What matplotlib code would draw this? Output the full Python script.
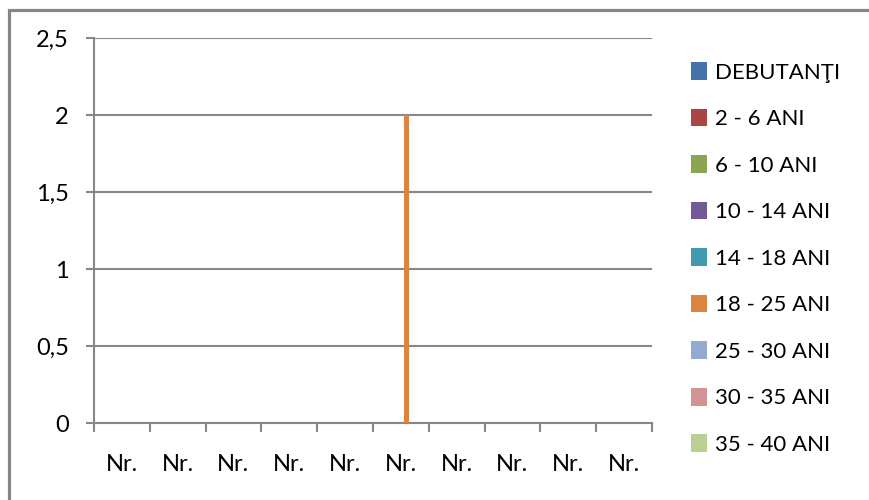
import matplotlib
matplotlib.use("Agg")
import matplotlib.pyplot as plt
import numpy as np
from matplotlib.patches import Rectangle

categories = ["Nr."] * 10
series_names = ["DEBUTANŢI", "2 - 6 ANI", "6 - 10 ANI", "10 - 14 ANI", "14 - 18 ANI",
                "18 - 25 ANI", "25 - 30 ANI", "30 - 35 ANI", "35 - 40 ANI"]
series_colors = ["#4672AC", "#A94543", "#8BA652", "#735A94", "#4198AF",
                 "#DD8440", "#94AAD2", "#D29393", "#B9CF96"]
debutanti = [0, 0, 0, 0, 0, 0, 0, 0, 0, 0]
ani_2_6 = [0, 0, 0, 0, 0, 0, 0, 0, 0, 0]
ani_6_10 = [0, 0, 0, 0, 0, 0, 0, 0, 0, 0]
ani_10_14 = [0, 0, 0, 0, 0, 0, 0, 0, 0, 0]
ani_14_18 = [0, 0, 0, 0, 0, 0, 0, 0, 0, 0]
ani_18_25 = [0, 0, 0, 0, 0, 2, 0, 0, 0, 0]
ani_25_30 = [0, 0, 0, 0, 0, 0, 0, 0, 0, 0]
ani_30_35 = [0, 0, 0, 0, 0, 0, 0, 0, 0, 0]
ani_35_40 = [0, 0, 0, 0, 0, 0, 0, 0, 0, 0]
all_series = [debutanti, ani_2_6, ani_6_10, ani_10_14, ani_14_18,
              ani_18_25, ani_25_30, ani_30_35, ani_35_40]
y_ticks = [0, 0.5, 1, 1.5, 2, 2.5]
y_tick_labels = ["0", "0,5", "1", "1,5", "2", "2,5"]

plt.rcParams['font.family'] = ['Lato', 'DejaVu Sans']
GRAY = "#878787"

fig = plt.figure(figsize=(8.7, 5.0), dpi=100)
ax = fig.add_axes([94/870, 1-423/500, (652-94)/870, (423-38)/500])

n_cat = len(categories)
n_ser = len(all_series)
x = np.arange(n_cat)
w = 1.0 / (n_ser + 1.5)
for i, (vals, name, col) in enumerate(zip(all_series, series_names, series_colors)):
    offs = (i - (n_ser - 1) / 2) * w
    ax.bar(x + offs, vals, width=w, color=col, label=name, linewidth=0, zorder=3)

ax.set_xlim(-0.5, n_cat - 0.5)
ax.set_ylim(0, 2.5)
ax.set_yticks(y_ticks)
ax.set_yticklabels(y_tick_labels)
ax.set_xticks(x)
ax.set_xticklabels(categories)
ax.set_xticks(np.arange(-0.5, n_cat, 1), minor=True)
ax.tick_params(axis='x', which='major', length=0, pad=22, labelsize=17)
ax.tick_params(axis='x', which='minor', length=6.5, width=1.5, color=GRAY, direction='out')
ax.tick_params(axis='y', length=6, width=1.5, color=GRAY, pad=12, labelsize=17)

for s in ['top', 'right']:
    ax.spines[s].set_visible(False)
for s in ['left', 'bottom']:
    ax.spines[s].set_color(GRAY)
    ax.spines[s].set_linewidth(1.5)
ax.grid(axis='y', color=GRAY, linewidth=1.5, zorder=1)
ax.set_axisbelow(True)

handles, labels = ax.get_legend_handles_labels()
leg = fig.legend(handles, labels, loc='upper left', bbox_to_anchor=(691/870, 1-62/500),
                 frameon=False, fontsize=16, handlelength=0.72, handleheight=0.85,
                 handletextpad=0.35, labelspacing=1.17, borderaxespad=0, borderpad=0)

fig.patches.append(Rectangle((9/870, -0.2), 1.2, 1.2 - 10/500,
                             transform=fig.transFigure, fill=False,
                             edgecolor=GRAY, linewidth=2.3, zorder=10))

fig.savefig("out.png", dpi=100)
